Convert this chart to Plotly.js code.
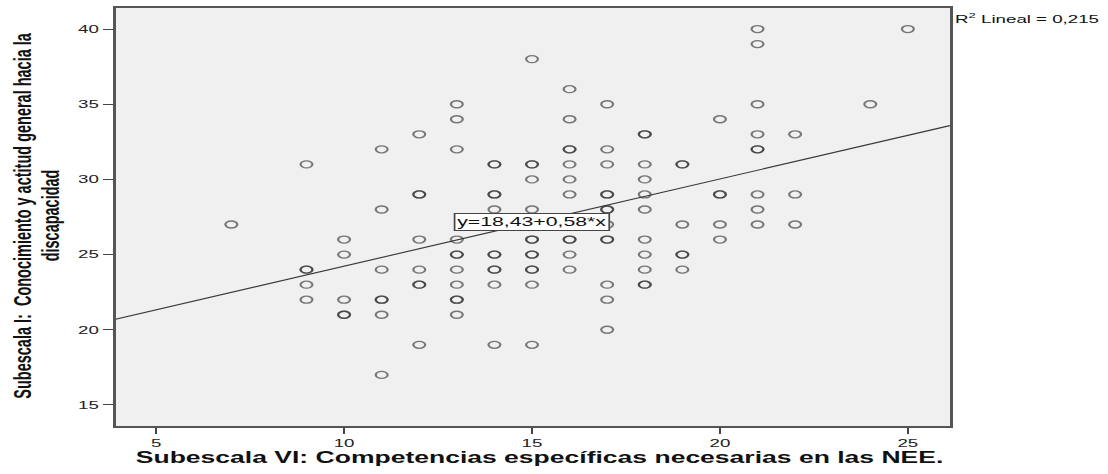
<!DOCTYPE html>
<html>
<head>
<meta charset="utf-8">
<script src="https://cdn.plot.ly/plotly-3.0.1.min.js"></script>
<style>
  html, body { margin: 0; padding: 0; background: #ffffff; }
  #wrap { width: 1108px; height: 474px; overflow: hidden; position: relative; }
  #chart { width: 652px; height: 474px; transform: scaleX(1.6994); transform-origin: 0 0; }
</style>
</head>
<body>
<div id="wrap"><div id="chart"></div></div>
<script>
// Subescala VI score levels (x) and the Subescala I scores observed at each level (y)
const subscaleVILevels = [7, 9, 10, 11, 12, 13, 14, 15, 16, 17, 18, 19, 20, 21, 22, 24, 25];
const subscaleIByLevel = [
  [27],
  [31, 24, 24, 23, 22],
  [26, 25, 22, 21, 21],
  [32, 28, 24, 22, 22, 21, 17],
  [33, 29, 29, 26, 24, 23, 23, 19],
  [35, 34, 32, 26, 25, 25, 24, 23, 22, 22, 21],
  [31, 31, 29, 29, 28, 25, 25, 24, 24, 23, 19],
  [38, 31, 31, 30, 28, 26, 26, 25, 25, 24, 24, 23, 19],
  [36, 34, 32, 32, 31, 30, 29, 26, 26, 25, 24],
  [35, 32, 31, 29, 29, 28, 28, 27, 26, 26, 23, 22, 20],
  [33, 33, 31, 30, 29, 28, 26, 25, 24, 23, 23],
  [31, 31, 27, 25, 25, 24],
  [34, 29, 29, 27, 26],
  [40, 39, 35, 33, 32, 32, 29, 28, 27],
  [33, 29, 27],
  [35],
  [40]
];
// Linear fit reported in the chart
const fitIntercept = 18.43;
const fitSlope = 0.58;
const fitLabel = 'y=18,43+0,58*x';
const r2Label = 'R<sup>2</sup> Lineal = 0,215';
// Axis ticks and titles
const xTicks = [5, 10, 15, 20, 25];
const yTicks = [15, 20, 25, 30, 35, 40];
const xTitle = 'Subescala VI: Competencias específicas necesarias en las NEE.';
const yTitleLines = ['Subescala I:  Conocimiento y actitud general hacia la', 'discapacidad'];

const xRange = [3.92, 26.12];
const yRange = [13.6, 41.4];

const xs = [], ys = [];
subscaleVILevels.forEach((lv, i) => {
  subscaleIByLevel[i].forEach(v => { xs.push(lv); ys.push(v); });
});

const fitX = xRange.slice();
const fitY = fitX.map(x => fitIntercept + fitSlope * x);

const FONT = 'Liberation Sans, Arial, Helvetica, sans-serif';

const traces = [
  {
    type: 'scatter', mode: 'markers', x: xs, y: ys,
    marker: { symbol: 'circle-open', size: 7, color: 'rgba(45,45,45,0.62)', line: { width: 1.3 } },
    hoverinfo: 'skip', showlegend: false
  },
  {
    type: 'scatter', mode: 'lines', x: fitX, y: fitY,
    line: { color: '#3a3a3a', width: 1.1 },
    hoverinfo: 'skip', showlegend: false
  }
];

const axisCommon = {
  showgrid: false, zeroline: false, showline: true, mirror: true,
  linecolor: '#555555', linewidth: 1.6,
  ticks: 'outside', ticklen: 6, tickwidth: 1, tickcolor: '#444',
  tickfont: { family: FONT, size: 11, color: '#222' },
  fixedrange: true
};

const yTitleX = [-0.1122, -0.0785];

const layout = {
  width: 652, height: 474,
  margin: { l: 68, r: 93, t: 8, b: 48 },
  paper_bgcolor: '#ffffff', plot_bgcolor: '#f0f0f0',
  showlegend: false,
  xaxis: Object.assign({}, axisCommon, { range: xRange, tickvals: xTicks, ticktext: xTicks.map(String) }),
  yaxis: Object.assign({}, axisCommon, { range: yRange, tickvals: yTicks, ticktext: yTicks.map(String) }),
  annotations: [
    {
      xref: 'x', yref: 'y', x: 12.9, y: 27.2, xanchor: 'left', yanchor: 'middle',
      text: fitLabel, showarrow: false,
      font: { family: FONT, size: 12.5, color: '#111' },
      bgcolor: '#ffffff', bordercolor: '#444', borderwidth: 1, borderpad: 1
    },
    {
      xref: 'paper', yref: 'paper', x: 1.0, y: 0.975, xanchor: 'left', yanchor: 'middle', xshift: 1,
      text: r2Label, showarrow: false,
      font: { family: FONT, size: 11, color: '#111' }
    },
    {
      xref: 'paper', yref: 'paper', x: 0.5075, y: -0.0754, xanchor: 'center', yanchor: 'middle',
      text: xTitle, showarrow: false,
      font: { family: FONT, size: 15.6, color: '#111', weight: 'bold' }
    }
  ].concat(yTitleLines.map((t, i) => ({
    xref: 'paper', yref: 'paper', x: yTitleX[i], y: 0.505, xanchor: 'center', yanchor: 'middle',
    text: t, showarrow: false, textangle: -90,
    font: { family: FONT, size: 14.5, color: '#111', weight: 'bold' }
  })))
};

Plotly.newPlot('chart', traces, layout, { staticPlot: true, displayModeBar: false });
</script>
</body>
</html>
